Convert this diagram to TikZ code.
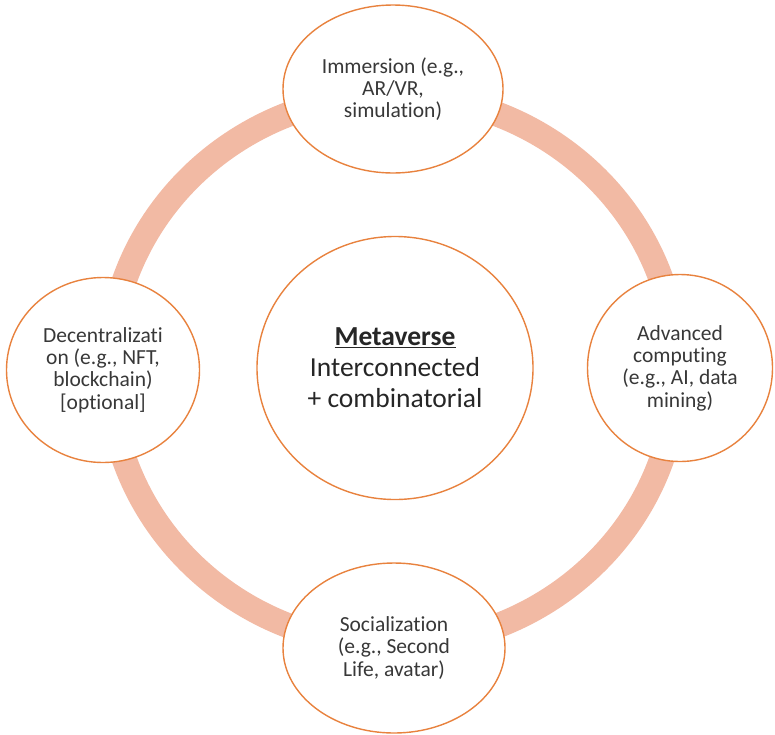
\documentclass[tikz,border=0pt]{standalone}
\usepackage{fontspec}
\setmainfont{Carlito}[Ligatures=NoCommon]
\usetikzlibrary{shapes.geometric}
\definecolor{edgeorange}{HTML}{E8823E}
\definecolor{ringsalmon}{HTML}{F2BAA4}
\definecolor{txtgray}{HTML}{383838}
\begin{document}
\begin{tikzpicture}[x=1pt, y=-1pt,
	sat/.style={ellipse, draw=edgeorange, line width=1.4pt, fill=white, align=center, inner sep=0pt, text=txtgray, font={\fontsize{21.5}{22.3}\selectfont}},
	hub/.style={sat, text=black!85, font={\fontsize{27.5}{31}\selectfont}}]
	\useasboundingbox (0,0) rectangle (775,734);
	\coordinate (ctr) at (393,370);
	\draw[ringsalmon, line width=25pt] (ctr) ellipse [x radius=284pt, y radius=275pt];

	\node[hub, minimum width=276pt, minimum height=263pt] (meta) at (395,368) {\underline{\textbf{Metaverse}}\\Interconnected\\+ combinatorial};
	\node[sat, minimum width=220pt, minimum height=168pt] (imm) at (393,89) {Immersion (e.g.,\\AR/VR,\\simulation)};
	\node[sat, minimum width=222pt, minimum height=170pt] (soc) at (394,648) {Socialization\\(e.g., Second\\Life, avatar)};
	\node[sat, minimum width=193pt, minimum height=185pt] (dec) at (103,370) {Decentralizati\\on (e.g., NFT,\\blockchain)\\{[optional]}};
	\node[sat, minimum width=185pt, minimum height=187pt] (comp) at (680,368) {Advanced\\computing\\(e.g., AI, data\\mining)};
\end{tikzpicture}
\end{document}
